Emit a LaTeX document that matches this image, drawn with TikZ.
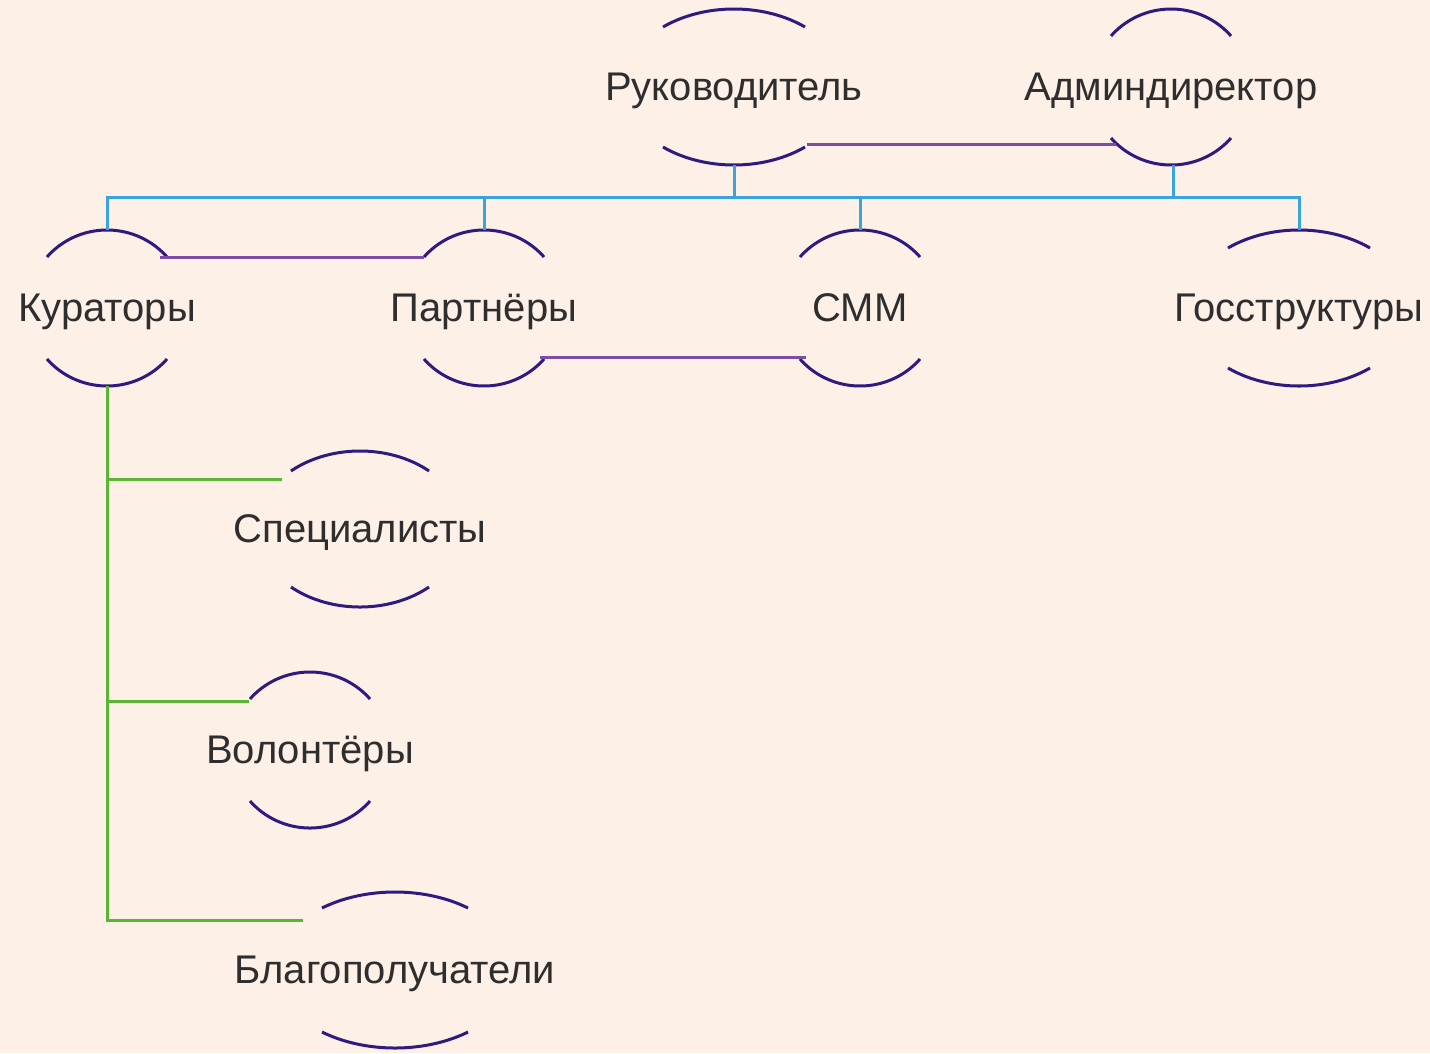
\documentclass[tikz,border=0pt]{standalone}
\usepackage{fontspec}
\setmainfont{Liberation Sans}
\definecolor{bgc}{HTML}{FDF0E7}
\definecolor{arcc}{HTML}{2E1A80}
\definecolor{txtc}{HTML}{2E2E2E}
\definecolor{bluec}{HTML}{3AA3DD}
\definecolor{purpc}{HTML}{7C4DA5}
\definecolor{greenc}{HTML}{5BB534}
\tikzset{
  lbl/.style={text=txtc, font=\fontsize{40pt}{48pt}\selectfont, inner sep=0pt,
    text height=28pt, text depth=0pt, anchor=center},
  arcline/.style={draw=arcc, line width=3pt},
  blueline/.style={draw=bluec, line width=3pt},
  purpline/.style={draw=purpc, line width=3pt},
  greenline/.style={draw=greenc, line width=3pt},
}
% name, cx, cy, half chord, vertical offset of arc ends, text
\newcommand\mindnode[6]{%
  \pgfmathsetmacro\mnT{asin(#5/78)}%
  \pgfmathsetmacro\mnE{180-\mnT}%
  \pgfmathsetmacro\mnR{#4/cos(\mnT)}%
  \node[lbl] (#1) at (#2,{#3-1}) {#6};
  \draw[arcline] plot[domain=\mnT:\mnE, samples=60, smooth] ({#2+\mnR*cos(\x)},{#3-78*sin(\x)});
  \draw[arcline] plot[domain=\mnT:\mnE, samples=60, smooth] ({#2+\mnR*cos(\x)},{#3+78*sin(\x)});
  \coordinate (#1-n) at (#2,{#3-78});
  \coordinate (#1-s) at (#2,{#3+78});
  \coordinate (#1-ne) at ({#2+#4},{#3-#5});
  \coordinate (#1-nw) at ({#2-#4},{#3-#5});
  \coordinate (#1-se) at ({#2+#4},{#3+#5});
  \coordinate (#1-sw) at ({#2-#4},{#3+#5});
}
\begin{document}
\begin{tikzpicture}[x=1pt,y=-1pt]
\fill[bgc] (0,0) rectangle (1430,1053);
\useasboundingbox (0,0) rectangle (1430,1053);

\mindnode{ruk}{734}{87}{71}{60}{Руководитель}
\mindnode{adm}{1171}{87}{60}{51}{Админдиректор}
\mindnode{kur}{107}{308}{60}{51}{Кураторы}
\mindnode{par}{484}{308}{60}{51}{Партнёры}
\mindnode{smm}{860}{308}{60}{51}{СММ}
\mindnode{gos}{1299}{308}{71}{60}{Госструктуры}
\mindnode{spe}{360}{529}{69}{58}{Специалисты}
\mindnode{vol}{310}{750}{60}{51}{Волонтёры}
\mindnode{bla}{395}{970}{73}{62}{Благополучатели}

% blue tree
\foreach \c in {kur,par,smm,gos}{
  \draw[blueline] (ruk-s) -- ++(0,32) -| (\c-n);
  \draw[blueline] ([xshift=2pt]adm-s) -- ++(0,32) -| (\c-n);
}

% purple links
\draw[purpline] ([shift={(2,-3)}]ruk-se) -- ([shift={(5,-3)}]ruk-se -| adm-sw);
\draw[purpline] ([shift={(-7,0)}]kur-ne) -- (par-nw);
\draw[purpline] ([shift={(-4,-2)}]par-se) -- ([shift={(6,-2)}]smm-sw);

% green tree
\draw[greenline] (kur-s) |- ([shift={(-9,8)}]spe-nw);
\draw[greenline] (kur-s) |- ([shift={(-1,2)}]vol-nw);
\draw[greenline] (kur-s) |- ([shift={(-19,12)}]bla-nw);
\end{tikzpicture}
\end{document}
